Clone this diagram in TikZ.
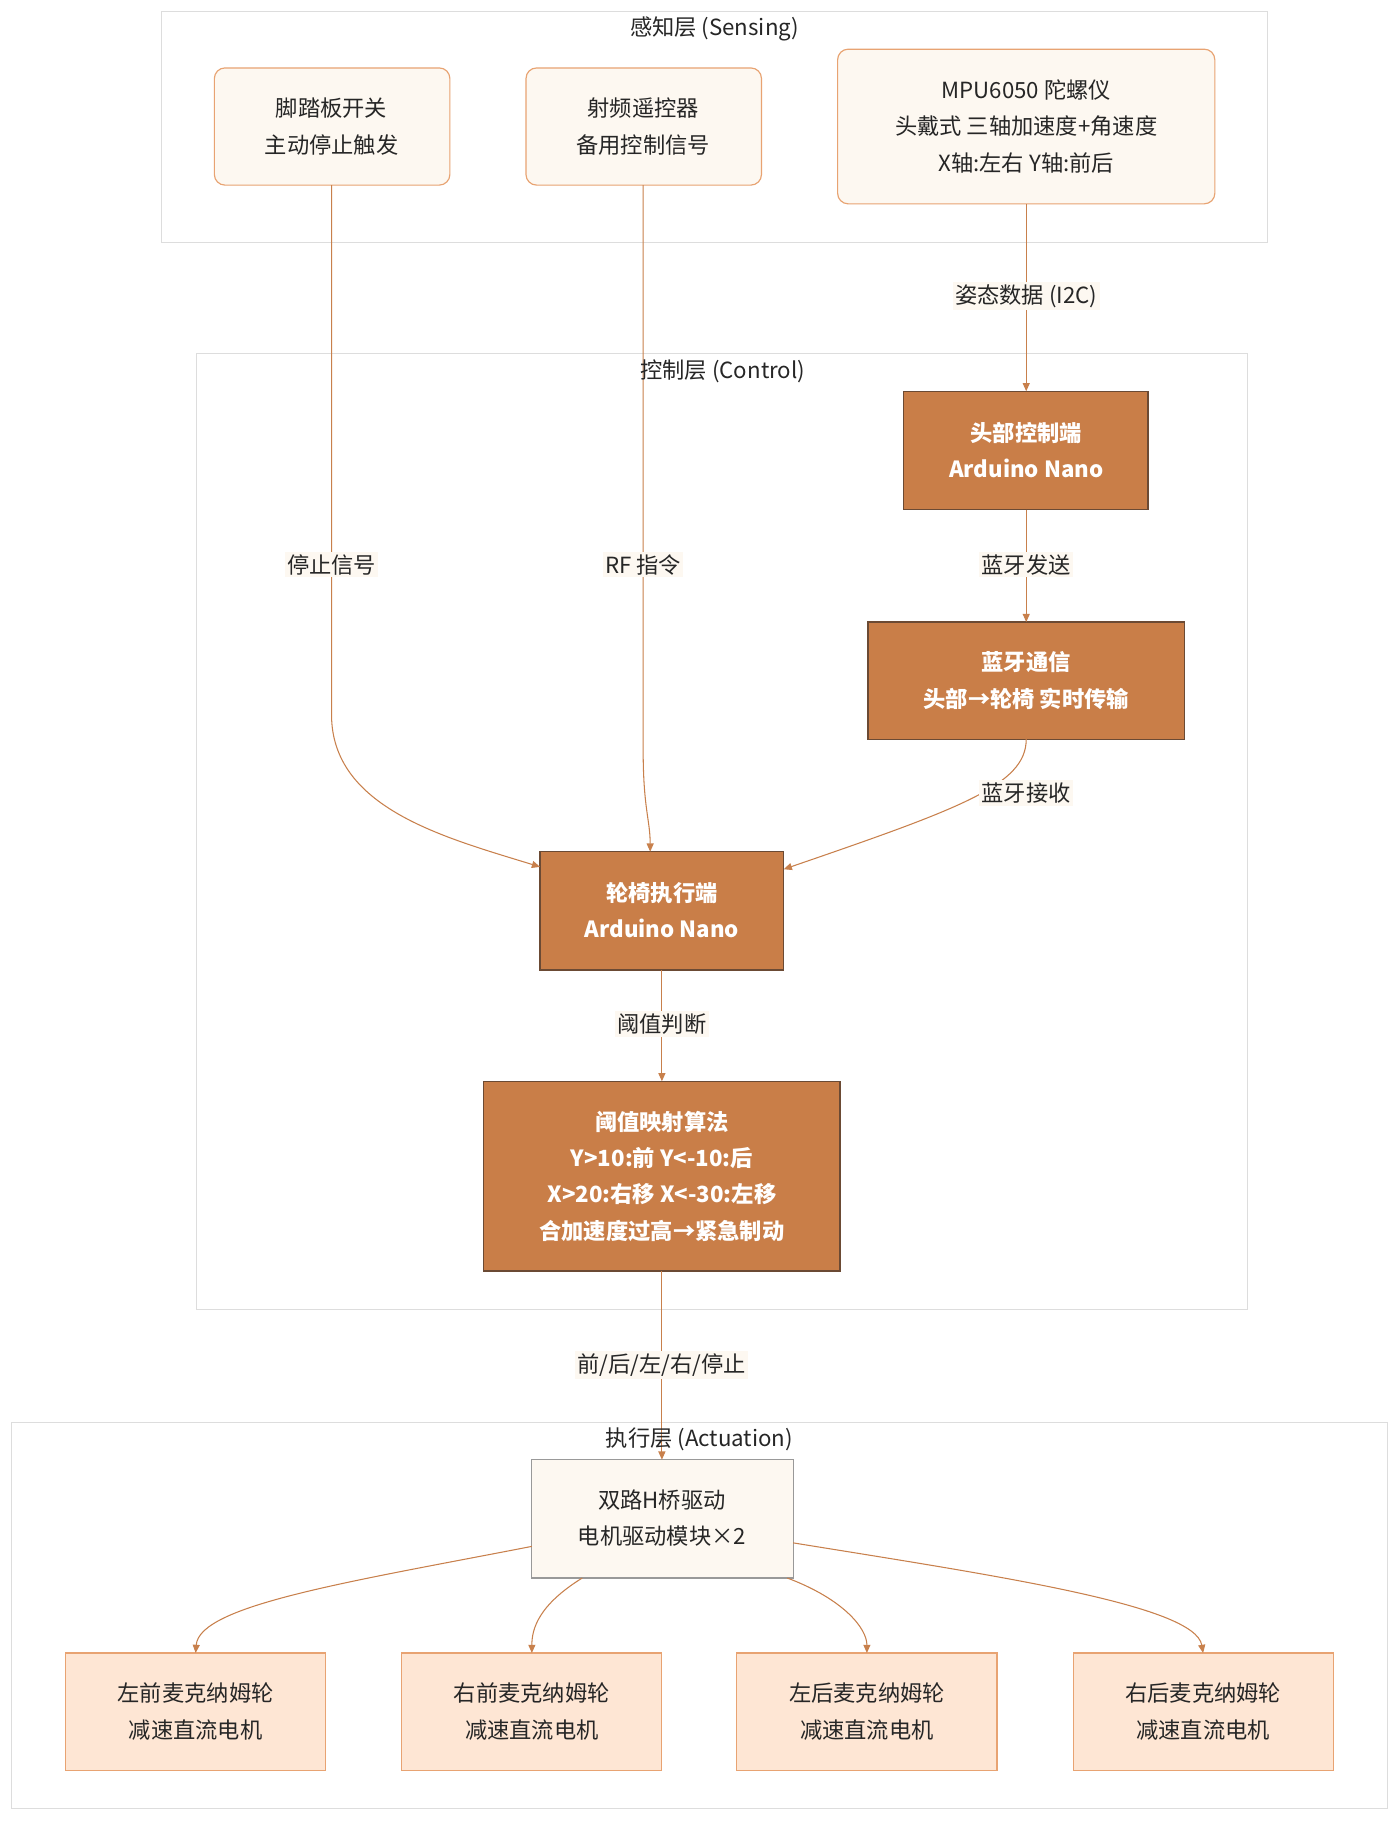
\documentclass[tikz,border=0pt]{standalone}
\usepackage{fontspec}
\setmainfont{Noto Sans CJK SC}
\usetikzlibrary{arrows.meta}
\definecolor{dk}{HTML}{C97E48}
\definecolor{dkb}{HTML}{6B4A34}
\definecolor{lt}{HTML}{FDF8F1}
\definecolor{ltb}{HTML}{E8A372}
\definecolor{mt}{HTML}{FEE6D4}
\definecolor{ln}{HTML}{C8804C}
\definecolor{cl}{HTML}{DDDDDD}
\begin{document}
\begin{tikzpicture}[x=1pt,y=-1pt,
 every node/.style={font=\fontsize{19}{31}\selectfont,align=center,text=black!85},
 bf/.style={text=white,font=\fontsize{19}{31}\selectfont\bfseries},
 cluster/.style={draw=cl,fill=white,line width=0.8pt},
 sens/.style={draw=ltb,fill=lt,rounded corners=9pt,line width=1pt},
 ctrl/.style={draw=dkb,fill=dk,line width=1pt},
 hb/.style={draw=black!40,fill=lt,line width=1pt},
 mot/.style={draw=ltb,fill=mt,line width=1pt},
 lab/.style={fill=lt,inner sep=2pt},
 arr/.style={draw=ln,line width=0.9pt,-{Triangle[length=7pt,width=6pt]}}]
\useasboundingbox[fill=white] (0,0) rectangle (1195,1557);
% clusters
\draw[cluster] (138,10) rectangle (1082,207);
\node (sl) at (610,25) {感知层 (Sensing)};
\draw[cluster] (168,302) rectangle (1065,1118);
\draw[cluster] (10,1214) rectangle (1184,1544);
% sensing nodes
\path[sens] (183,58) rectangle (384,158); \node (pedal) at (283,108) {脚踏板开关\\主动停止触发};
\path[sens] (449,58) rectangle (650,158); \node (rf) at (549,108) {射频遥控器\\备用控制信号};
\path[sens] (715,42) rectangle (1037,174); \node (mpu) at (876,108) {MPU6050 陀螺仪\\头戴式 三轴加速度+角速度\\X轴:左右 Y轴:前后};
% control nodes
\path[ctrl] (771,334) rectangle (980,435); \node[bf] (head) at (876,384) {头部控制端\\Arduino Nano};
\path[ctrl] (741,531) rectangle (1011,631); \node[bf] (bt) at (876,581) {蓝牙通信\\头部→轮椅 实时传输};
\path[ctrl] (461,727) rectangle (669,828); \node[bf] (wheel) at (565,777) {轮椅执行端\\Arduino Nano};
\path[ctrl] (413,923) rectangle (717,1085); \node[bf] (algo) at (565,1004) {阈值映射算法\\Y>10:前 Y<-10:后\\X>20:右移 X<-30:左移\\合加速度过高→紧急制动};
% actuation
\path[hb] (454,1246) rectangle (677,1347); \node (hb) at (565,1296) {双路H桥驱动\\电机驱动模块×2};
\foreach \x/\n/\t in {167/m1/左前麦克纳姆轮,454/m2/右前麦克纳姆轮,740/m3/左后麦克纳姆轮,1027/m4/右后麦克纳姆轮}{
 \path[mot] (\x-111,1411) rectangle (\x+111,1511);
 \node (\n) at (\x,1461) {\t\\减速直流电机};}
% coordinates
\coordinate (pedalS) at (283,158);
\coordinate (rfS) at (549,158);
\coordinate (mpuS) at (876,174);
\coordinate (headN) at (876,334);
\coordinate (headS) at (876,435);
\coordinate (btN) at (876,531);
\coordinate (btS) at (876,631);
\coordinate (wW) at (461,740);
\coordinate (wN) at (555,727);
\coordinate (wE) at (669,742);
\coordinate (wS) at (565,828);
\coordinate (aN) at (565,923);
\coordinate (aS) at (565,1085);
\coordinate (hN) at (565,1246);
% edges
\draw[arr] (mpuS) -- (headN);
\draw[arr] (headS) -- (btN);
\draw[arr] (pedalS) -- (283,610) .. controls (283,690) and (380,715) .. (wW);
\draw[arr] (rfS) -- (549,640) .. controls (549,690) and (555,700) .. (wN);
\draw[arr] (btS) .. controls (876,670) and (820,690) .. (wE);
\draw[arr] (wS) -- (aN);
\draw[arr] (aS) -- (hN);
\draw[arr] (454,1320) .. controls (300,1350) and (170,1370) .. (167,1411);
\draw[arr] (497,1347) .. controls (460,1370) and (454,1390) .. (454,1411);
\draw[arr] (672,1347) .. controls (720,1365) and (740,1390) .. (740,1411);
\draw[arr] (677,1317) .. controls (850,1345) and (1020,1370) .. (1027,1411);
% labels
\node[lab] (l1) at (876,253) {姿态数据 (I2C)};
\node[lab] (l2) at (283,482) {停止信号};
\node[lab] (l3) at (549,482) {RF 指令};
\node[lab] (l4) at (876,482) {蓝牙发送};
\node[lab] (l5) at (876,677) {蓝牙接收};
\node[lab] (l6) at (565,874) {阈值判断};
\node[lab] (l7) at (565,1165) {前/后/左/右/停止};
\node (cl2) at (617,317) {控制层 (Control)};
\node (cl3) at (597,1229) {执行层 (Actuation)};
\end{tikzpicture}
\end{document}
